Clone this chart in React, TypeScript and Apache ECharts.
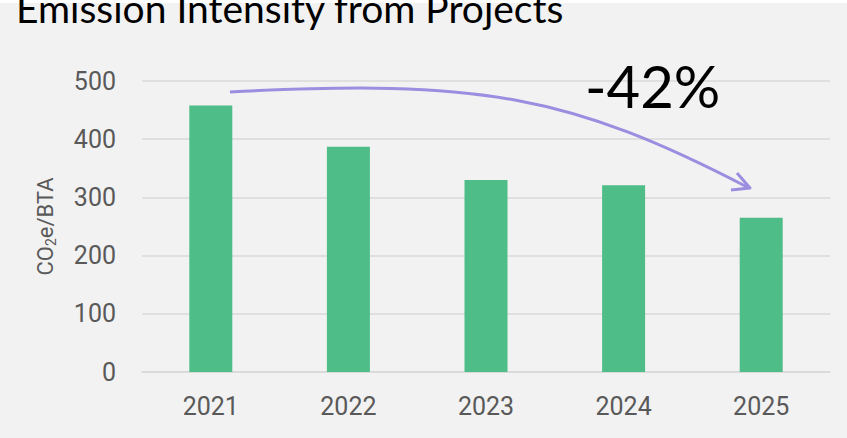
import React, { useEffect, useRef } from "react";
import * as echarts from "echarts";

const categories = ["2021", "2022", "2023", "2024", "2025"];
const intensity = [458, 387, 330, 321, 265];
const yTicks = { min: 0, max: 500, interval: 100 };
const titleText = "Emission Intensity from Projects";
const changeLabel = "-42%";

export default function App() {
  const ref = useRef<HTMLDivElement>(null);
  useEffect(() => {
    if (!ref.current) return;
    const chart = echarts.init(ref.current, undefined, { renderer: "svg" });
    chart.setOption({
      animation: false,
      backgroundColor: "#f2f2f2",
      title: {
        text: titleText,
        left: 11,
        top: -17,
        textStyle: { fontFamily: "Lato", fontSize: 39, fontWeight: "normal", color: "#000" },
      },
      grid: { left: 142, right: 17, top: 81, bottom: 66 },
      xAxis: {
        type: "category",
        data: categories,
        axisLine: { show: true, lineStyle: { color: "#d9d9d9", width: 1.5 } },
        axisTick: { show: false },
        axisLabel: { fontFamily: "Roboto", fontSize: 25, color: "#595959", margin: 22 },
      },
      yAxis: {
        type: "value",
        min: yTicks.min,
        max: yTicks.max,
        interval: yTicks.interval,
        name: "{n|CO}{s|2}{n|e/BTA}",
        nameLocation: "middle",
        nameRotate: 90,
        nameGap: 84,
        nameTextStyle: {
          color: "#595959",
          rich: {
            n: { fontFamily: "Roboto", fontSize: 22, color: "#595959", lineHeight: 26 },
            s: { fontFamily: "Roboto", fontSize: 14, color: "#595959", lineHeight: 12, verticalAlign: "bottom" },
          },
        },
        axisLine: { show: false },
        axisTick: { show: false },
        splitLine: { lineStyle: { color: "#d9d9d9", width: 1.5 } },
        axisLabel: { fontFamily: "Roboto", fontSize: 25, color: "#595959", margin: 26 },
      },
      series: [
        {
          type: "bar",
          data: intensity,
          barWidth: 43,
          itemStyle: { color: "#4fbd88" },
        },
      ],
      graphic: [
        { type: "rect", shape: { x: 0, y: 0, width: 847, height: 3 }, style: { fill: "#ffffff" }, z: 0 },
        {
          type: "bezierCurve",
          shape: { x1: 230, y1: 92, cpx1: 480, cpy1: 79, cpx2: 570, cpy2: 95, x2: 749, y2: 188 },
          style: { stroke: "#9b8de0", lineWidth: 3, fill: null },
          z: 10,
        },
        {
          type: "polyline",
          shape: { points: [[737, 173], [750, 188], [731, 190]] },
          style: { stroke: "#9b8de0", lineWidth: 3, fill: null, lineJoin: "round" },
          z: 10,
        },
        {
          type: "text",
          left: 585,
          top: 56,
          style: { text: changeLabel, fontFamily: "Lato", fontSize: 58, fill: "#000" },
          z: 10,
        },
      ],
    });
    return () => chart.dispose();
  }, []);
  return (
    <div
      ref={ref}
      style={{ position: "absolute", left: 0, top: 0, width: 847, height: 438 }}
    />
  );
}
